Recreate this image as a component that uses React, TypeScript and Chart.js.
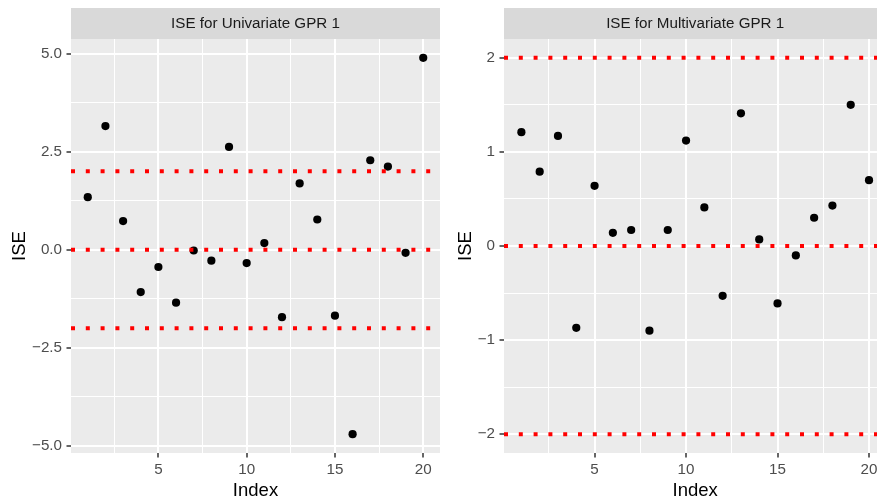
import React, { useEffect, useRef } from "react";
import { Chart, registerables } from "chart.js";

Chart.register(...registerables);

// ---- data ----
const indexValues = [1, 2, 3, 4, 5, 6, 7, 8, 9, 10, 11, 12, 13, 14, 15, 16, 17, 18, 19, 20];
const univariateISE = [1.34, 3.15, 0.73, -1.08, -0.44, -1.35, -0.02, -0.28, 2.62, -0.34, 0.17, -1.72, 1.69, 0.77, -1.68, -4.7, 2.28, 2.12, -0.08, 4.89];
const multivariateISE = [1.21, 0.79, 1.17, -0.87, 0.64, 0.14, 0.17, -0.9, 0.17, 1.12, 0.41, -0.53, 1.41, 0.07, -0.61, -0.1, 0.3, 0.43, 1.5, 0.7];
const referenceLines = [-2, 0, 2];

const xMajorTicks = [5, 10, 15, 20];
const xMinorTicks = [2.5, 7.5, 12.5, 17.5];
const xTickLabels = ["5", "10", "15", "20"];

const uniYMajorTicks = [-5, -2.5, 0, 2.5, 5];
const uniYMinorTicks = [-3.75, -1.25, 1.25, 3.75];
const uniYTickLabels = ["\u22125.0", "\u22122.5", "0.0", "2.5", "5.0"];

const multiYMajorTicks = [-2, -1, 0, 1, 2];
const multiYMinorTicks = [-1.5, -0.5, 0.5, 1.5];
const multiYTickLabels = ["\u22122", "\u22121", "0", "1", "2"];

const uniTitle = "ISE for Univariate GPR 1";
const multiTitle = "ISE for Multivariate GPR 1";
const xTitle = "Index";
const yTitle = "ISE";

const FONT = '"Liberation Sans", Arial, sans-serif';

const panelPlugin = {
  id: "ggPanel",
  beforeDraw(chart: any, _args: any, opts: any) {
    const { ctx, chartArea: a } = chart;
    ctx.save();
    ctx.fillStyle = "#EBEBEB";
    ctx.fillRect(a.left, a.top, a.right - a.left, a.bottom - a.top);
    ctx.fillStyle = "#D9D9D9";
    ctx.fillRect(a.left, opts.stripTop, a.right - a.left, a.top - opts.stripTop);
    ctx.fillStyle = "#1A1A1A";
    ctx.font = `15.2px ${FONT}`;
    ctx.textAlign = "center";
    ctx.textBaseline = "middle";
    ctx.fillText(opts.title, (a.left + a.right) / 2, (opts.stripTop + a.top) / 2 + 0.5);
    ctx.restore();
  },
  afterDatasetsDraw(chart: any, _args: any, opts: any) {
    const { ctx, chartArea: a } = chart;
    const ys = chart.scales.y;
    ctx.save();
    ctx.beginPath();
    ctx.rect(a.left, a.top, a.right - a.left, a.bottom - a.top);
    ctx.clip();
    ctx.strokeStyle = "#FF0000";
    ctx.lineWidth = 4;
    ctx.lineCap = "butt";
    ctx.setLineDash([4, 10.8]);
    for (const v of opts.lines as number[]) {
      const py = ys.getPixelForValue(v);
      ctx.beginPath();
      ctx.moveTo(a.left, py);
      ctx.lineTo(a.right, py);
      ctx.stroke();
    }
    ctx.restore();
  },
};

function makeAxis(
  major: number[],
  minor: number[],
  labels: string[],
  min: number,
  max: number,
  isX: boolean,
  titlePad: number,
  fitSize: number
) {
  const isMajor = (v: number) => major.some((m) => Math.abs(m - v) < 1e-9);
  return {
    type: "linear",
    position: isX ? "bottom" : "left",
    min,
    max,
    afterBuildTicks: (scale: any) => {
      scale.ticks = [...major, ...minor].sort((p, q) => p - q).map((v) => ({ value: v }));
    },
    afterFit: (scale: any) => {
      if (isX) scale.height = fitSize;
      else scale.width = fitSize;
    },
    grid: {
      color: "#FFFFFF",
      lineWidth: (c: any) => (c.tick && isMajor(c.tick.value) ? 2 : 1),
      tickColor: (c: any) => (c.tick && isMajor(c.tick.value) ? "#333333" : "rgba(0,0,0,0)"),
      tickLength: 4.5,
      tickWidth: 1.5,
      drawOnChartArea: true,
      drawTicks: true,
    },
    border: { display: false },
    ticks: {
      autoSkip: false,
      maxRotation: 0,
      minRotation: 0,
      padding: isX ? 3 : 4.5,
      color: "#4D4D4D",
      font: { family: FONT, size: 15.2 },
      callback: (value: any) => {
        const i = major.findIndex((m) => Math.abs(m - Number(value)) < 1e-9);
        return i >= 0 ? labels[i] : "";
      },
    },
    title: {
      display: true,
      text: isX ? xTitle : yTitle,
      color: "#000000",
      font: { family: FONT, size: 18.5, lineHeight: 1 },
      padding: isX ? { top: 0, bottom: titlePad } : { top: titlePad, bottom: 0 },
    },
  };
}

function Panel(props: {
  left: number;
  values: number[];
  title: string;
  yMajor: number[];
  yMinor: number[];
  yLabels: string[];
  yMin: number;
  yMax: number;
  yAxisWidth: number;
  padRight: number;
  yTitlePad: number;
}) {
  const ref = useRef<HTMLCanvasElement | null>(null);
  useEffect(() => {
    if (!ref.current) return;
    const chart = new Chart(ref.current, {
      type: "scatter",
      data: {
        datasets: [
          {
            data: indexValues.map((x, i) => ({ x, y: props.values[i] })),
            backgroundColor: "#000000",
            borderWidth: 0,
            pointRadius: 4.1,
            pointHoverRadius: 4.1,
            showLine: false,
          },
        ],
      },
      options: {
        responsive: false,
        animation: false,
        devicePixelRatio: 1,
        events: [],
        layout: { padding: { top: 39, right: props.padRight, bottom: 0, left: 0 } },
        plugins: {
          legend: { display: false },
          tooltip: { enabled: false },
          ggPanel: { title: props.title, stripTop: 8, lines: referenceLines },
        } as any,
        scales: {
          x: makeAxis(xMajorTicks, xMinorTicks, xTickLabels, 0.05, 20.95, true, 0, 47) as any,
          y: makeAxis(props.yMajor, props.yMinor, props.yLabels, props.yMin, props.yMax, false, props.yTitlePad, props.yAxisWidth) as any,
        },
      },
      plugins: [panelPlugin],
    });
    return () => chart.destroy();
  }, []);
  return (
    <canvas
      ref={ref}
      width={450}
      height={500}
      style={{ position: "absolute", left: props.left, top: 0, width: 450, height: 500 }}
    />
  );
}

export default function App() {
  return (
    <div
      style={{
        position: "fixed",
        left: 0,
        top: 0,
        width: 877,
        height: 500,
        overflow: "hidden",
        background: "#FFFFFF",
      }}
    >
      <Panel
        left={0}
        values={univariateISE}
        title={uniTitle}
        yMajor={uniYMajorTicks}
        yMinor={uniYMinorTicks}
        yLabels={uniYTickLabels}
        yMin={-5.18}
        yMax={5.37}
        yAxisWidth={71}
        padRight={10}
        yTitlePad={10.75}
      />
      <Panel
        left={450}
        values={multivariateISE}
        title={multiTitle}
        yMajor={multiYMajorTicks}
        yMinor={multiYMinorTicks}
        yLabels={multiYTickLabels}
        yMin={-2.2}
        yMax={2.2}
        yAxisWidth={54}
        padRight={13.6}
        yTitlePad={6.5}
      />
    </div>
  );
}
